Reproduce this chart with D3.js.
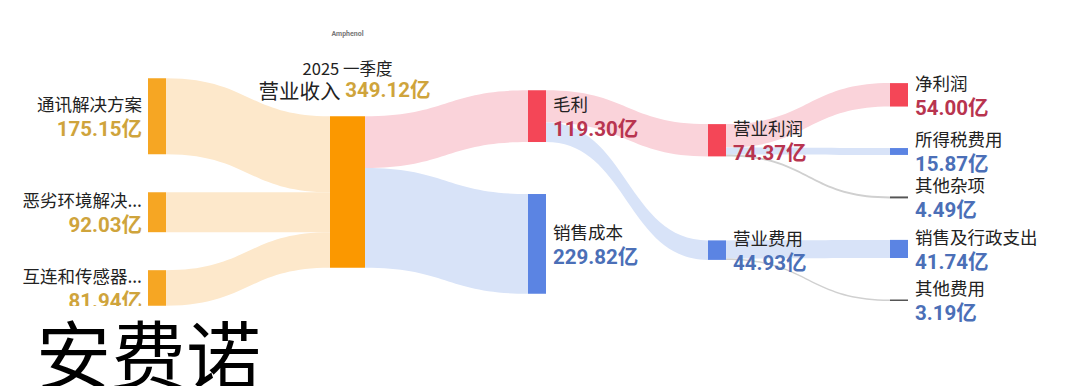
<!DOCTYPE html>
<html>
  <head>
    <meta charset="utf-8" />
    <script src="https://d3js.org/d3.v7.min.js"></script>
    <style>
      body {
        margin: 0;
        background: #fff;
      }
      .name {
        font-family: "Noto Sans CJK SC", "Noto Sans", sans-serif;
        font-size: 17.5px;
        fill: #222;
      }
      .value {
        font-family: Roboto, "Noto Sans CJK SC", sans-serif;
        font-size: 20.5px;
        font-weight: 700;
      }
    </style>
  </head>
  <body>
    <svg id="chart" width="1080" height="386"></svg>

    <script>
      // Amphenol 2025 Q1 income statement, unit: 亿
      const nodeNames = [
        "通讯解决方案",
        "恶劣环境解决...",
        "互连和传感器...",
        "营业收入",
        "毛利",
        "销售成本",
        "营业利润",
        "营业费用",
        "净利润",
        "所得税费用",
        "其他杂项",
        "销售及行政支出",
        "其他费用",
      ];
      const nodeValues = [
        175.15, 92.03, 81.94, 349.12, 119.3, 229.82, 74.37, 44.93, 54.0,
        15.87, 4.49, 41.74, 3.19,
      ];
      const nodeColumns = [0, 0, 0, 1, 2, 2, 3, 3, 4, 4, 4, 4, 4];
      const nodeKinds = [
        "rev", "rev", "rev", "total", "profit", "cost", "profit", "cost",
        "profit", "cost", "other", "cost", "other",
      ];

      const linkSources = [0, 1, 2, 3, 3, 4, 4, 6, 6, 6, 7, 7];
      const linkTargets = [3, 3, 3, 4, 5, 6, 7, 8, 9, 10, 11, 12];
      const linkValues = [
        175.15, 92.03, 81.94, 119.3, 229.82, 74.37, 44.93, 54.0, 15.87, 4.49,
        41.74, 3.19,
      ];

      const periodLabel = "2025 一季度";
      const brandLabel = "Amphenol";
      const titleText = "安费诺";

      const svg = d3.select("#chart");

      // layout settings
      const centerY = 192;
      const colPadding = [38, 0, 52, 84, 41.5];
      const nodeColor = {
        rev: "#f6a623",
        total: "#fb9800",
        profit: "#f44657",
        cost: "#5b84e3",
        other: "#555",
      };
      const linkColor = {
        total: "#fde8cb",
        profit: "#fad3da",
        cost: "#d8e3f8",
        other: "#d0d0d0",
      };
      const valueColor = {
        rev: "#cfa43c",
        total: "#cfa43c",
        profit: "#b8344f",
        cost: "#4b6fb7",
        other: "#4b6fb7",
      };

      const h = d3.scaleLinear().domain([0, 349.12]).range([0, 151.5]);
      const colX = d3
        .scaleOrdinal()
        .domain([0, 1, 2, 3, 4])
        .range([148, 330, 528, 708, 890]);

      const nodes = nodeNames.map((name, i) => ({
        name,
        value: nodeValues[i],
        col: nodeColumns[i],
        kind: nodeKinds[i],
        width: nodeKinds[i] === "total" ? 35 : 18,
      }));

      // stack each column around centerY
      d3.group(nodes, (d) => d.col).forEach((colNodes, col) => {
        const total =
          d3.sum(colNodes, (d) => h(d.value)) +
          colPadding[col] * (colNodes.length - 1);
        let y = centerY - total / 2;
        colNodes.forEach((d) => {
          d.x0 = colX(col);
          d.x1 = d.x0 + d.width;
          d.y0 = y;
          d.y1 = y + h(d.value);
          d.outY = d.y0;
          d.inY = d.y0;
          y = d.y1 + colPadding[col];
        });
      });

      const links = linkSources.map((s, i) => {
        const src = nodes[s];
        const tgt = nodes[linkTargets[i]];
        const w = h(linkValues[i]);
        const l = {
          src,
          tgt,
          sy0: src.outY,
          sy1: src.outY + w,
          ty0: tgt.inY,
          ty1: tgt.inY + w,
        };
        src.outY += w;
        tgt.inY += w;
        return l;
      });

      const linkPath = (l) => {
        const x0 = l.src.x1;
        const x1 = l.tgt.x0;
        const xm = (x0 + x1) / 2;
        const p = d3.path();
        p.moveTo(x0, l.sy0);
        p.bezierCurveTo(xm, l.sy0, xm, l.ty0, x1, l.ty0);
        p.lineTo(x1, l.ty1);
        p.bezierCurveTo(xm, l.ty1, xm, l.sy1, x0, l.sy1);
        p.closePath();
        return p.toString();
      };

      svg
        .append("g")
        .selectAll("path.link")
        .data(links)
        .join("path")
        .attr("class", "link")
        .attr("d", linkPath)
        .attr("fill", (d) => linkColor[d.tgt.kind]);

      svg
        .append("g")
        .selectAll("rect.node")
        .data(nodes)
        .join("rect")
        .attr("class", "node")
        .attr("x", (d) => d.x0)
        .attr("y", (d) => d.y0)
        .attr("width", (d) => d.width)
        .attr("height", (d) => Math.max(1.5, d.y1 - d.y0))
        .attr("fill", (d) => nodeColor[d.kind]);

      // labels for side columns
      const labelled = nodes.filter((d) => d.kind !== "total");
      const lab = svg
        .append("g")
        .selectAll("g.label")
        .data(labelled)
        .join("g")
        .attr("class", "label")
        .attr("text-anchor", (d) => (d.col === 0 ? "end" : "start"))
        .attr("transform", (d) => {
          const x = d.col === 0 ? d.x0 - 6 : d.x1 + 7;
          return "translate(" + x + "," + (d.y0 + d.y1) / 2 + ")";
        });

      lab
        .append("text")
        .attr("class", "name")
        .attr("dy", -12.5)
        .attr("dominant-baseline", "central")
        .text((d) => d.name);

      lab
        .append("text")
        .attr("class", "value")
        .attr("dy", 13)
        .attr("dominant-baseline", "central")
        .attr("fill", (d) => valueColor[d.kind])
        .text((d) => d.value.toFixed(2) + "亿");

      // central revenue node label
      const total = nodes.find((d) => d.kind === "total");
      const cx = (total.x0 + total.x1) / 2;

      svg
        .append("text")
        .attr("x", cx)
        .attr("y", 34)
        .attr("text-anchor", "middle")
        .attr("dominant-baseline", "central")
        .style("font-family", "Roboto, sans-serif")
        .style("font-size", "7px")
        .style("font-weight", 700)
        .attr("fill", "#777")
        .text(brandLabel);

      svg
        .append("text")
        .attr("x", cx)
        .attr("y", 68)
        .attr("text-anchor", "middle")
        .attr("dominant-baseline", "central")
        .attr("class", "name")
        .style("font-size", "16.5px")
        .attr("fill", "#333")
        .text(periodLabel);

      const head = svg
        .append("text")
        .attr("x", cx - 3)
        .attr("y", 90)
        .attr("text-anchor", "middle")
        .attr("dominant-baseline", "central");
      head
        .append("tspan")
        .attr("class", "name")
        .style("font-size", "20.5px")
        .attr("fill", "#111")
        .text(total.name + " ");
      head
        .append("tspan")
        .attr("class", "value")
        .style("font-size", "20.5px")
        .attr("fill", valueColor.total)
        .text(total.value.toFixed(2) + "亿");

      // big title over a white block at the bottom left
      svg
        .append("rect")
        .attr("x", 0)
        .attr("y", 306)
        .attr("width", 310)
        .attr("height", 80)
        .attr("fill", "#fff");

      svg
        .append("text")
        .attr("x", 36)
        .attr("y", 384)
        .style("font-family", '"Noto Sans CJK SC", sans-serif')
        .style("font-size", "75px")
        .attr("fill", "#000")
        .text(titleText);
    </script>
  </body>
</html>
